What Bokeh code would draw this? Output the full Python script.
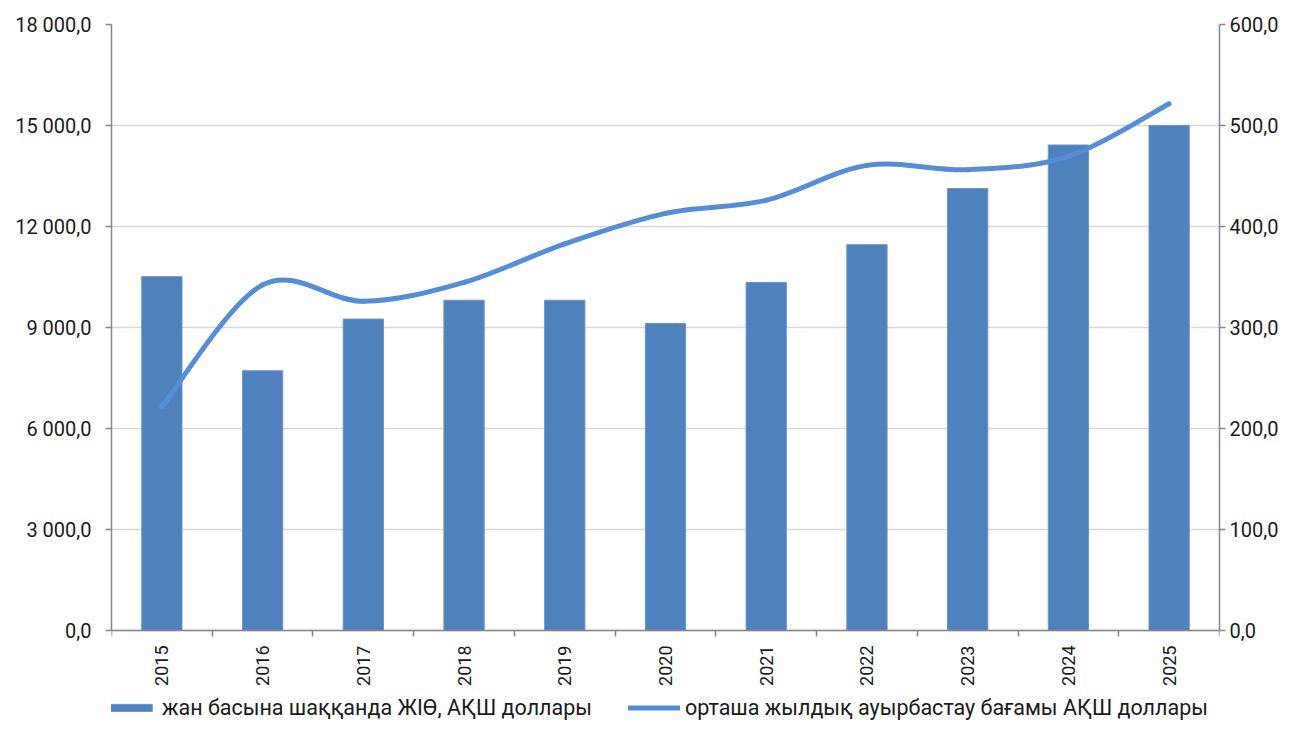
import math
from bokeh.plotting import figure
from bokeh.models import (Range1d, LinearAxis, FixedTicker, Legend, LegendItem)
from bokeh.embed import file_html
from bokeh.resources import INLINE

# ---- data ----
years = ["2015", "2016", "2017", "2018", "2019", "2020", "2021", "2022", "2023", "2024", "2025"]
gdp_per_capita = [10510, 7715, 9250, 9810, 9810, 9120, 10340, 11460, 13130, 14420, 15000]
exchange_rate = [221.7, 342.2, 326.0, 344.7, 382.8, 413.0, 426.0, 460.5, 456.3, 469.4, 521.5]

left_ticks = [0, 3000, 6000, 9000, 12000, 15000, 18000]
left_labels = ["0,0", "3 000,0", "6 000,0", "9 000,0", "12 000,0", "15 000,0", "18 000,0"]
right_ticks = [0, 100, 200, 300, 400, 500, 600]
right_labels = ["0,0", "100,0", "200,0", "300,0", "400,0", "500,0", "600,0"]

bar_label = "жан басына шаққанда ЖІӨ, АҚШ доллары"
line_label = "орташа жылдық ауырбастау бағамы АҚШ доллары"

BAR_COLOR = "#4F81BD"
LINE_COLOR = "#558ED5"
AXIS_COLOR = "#868686"
GRID_COLOR = "#D9D9D9"
TEXT_COLOR = "#1a1a1a"
FONT = "Roboto"

# layout (pixels)
W, H = 1281, 720
LEFT, RIGHT, TOP = 111, 59, 24
PLOT_H = 606          # height of the value area (0 .. max)
BELOW = H - TOP - PLOT_H  # room under the zero line for labels and legend

n = len(years)
xs = list(range(n))

y_max, r_max = left_ticks[-1], right_ticks[-1]
y_min = -BELOW * y_max / PLOT_H
r_min = -BELOW * r_max / PLOT_H

p = figure(width=W, height=H, output_backend="svg", toolbar_location=None,
           x_range=Range1d(-0.5, n - 0.5), y_range=Range1d(y_min, y_max),
           x_axis_location=None,
           min_border_left=LEFT, min_border_right=RIGHT, min_border_top=TOP,
           min_border_bottom=0)
p.outline_line_color = None
p.background_fill_color = "white"
p.border_fill_color = "white"
p.extra_y_ranges = {"right": Range1d(r_min, r_max)}

# bars
bars = p.vbar(x=xs, top=gdp_per_capita, bottom=0, width=0.4, fill_color=BAR_COLOR,
              line_color="#6a95c9", line_width=1)

# smooth line (Bezier segments through data points, Catmull-Rom style)
x0s, y0s, x1s, y1s, cx0s, cy0s, cx1s, cy1s = [], [], [], [], [], [], [], []
for i in range(n - 1):
    pm = (xs[max(i - 1, 0)], exchange_rate[max(i - 1, 0)])
    p0 = (xs[i], exchange_rate[i])
    p1 = (xs[i + 1], exchange_rate[i + 1])
    p2 = (xs[min(i + 2, n - 1)], exchange_rate[min(i + 2, n - 1)])
    x0s.append(p0[0]); y0s.append(p0[1])
    x1s.append(p1[0]); y1s.append(p1[1])
    cx0s.append(p0[0] + (p1[0] - pm[0]) / 6.0)
    cy0s.append(p0[1] + (p1[1] - pm[1]) / 6.0)
    cx1s.append(p1[0] - (p2[0] - p0[0]) / 6.0)
    cy1s.append(p1[1] - (p2[1] - p0[1]) / 6.0)
curve = p.bezier(x0=x0s, y0=y0s, x1=x1s, y1=y1s, cx0=cx0s, cy0=cy0s, cx1=cx1s, cy1=cy1s,
                 line_color=LINE_COLOR, line_width=5, line_cap="round",
                 y_range_name="right")

# category axis fixed on the zero line
xaxis = LinearAxis(fixed_location=0,
                   ticker=FixedTicker(ticks=xs, minor_ticks=[i - 0.5 for i in range(n + 1)]))
xaxis.major_label_overrides = {i: y for i, y in enumerate(years)}
xaxis.major_label_orientation = math.pi / 2
xaxis.major_tick_line_color = None
xaxis.major_tick_out = 6
xaxis.major_tick_in = 0
xaxis.minor_tick_line_color = AXIS_COLOR
xaxis.minor_tick_line_width = 1.5
xaxis.minor_tick_out = 6
xaxis.minor_tick_in = 0
xaxis.axis_line_color = AXIS_COLOR
xaxis.axis_line_width = 1.5
xaxis.major_label_text_font = FONT
xaxis.major_label_text_font_size = "18px"
xaxis.major_label_text_color = TEXT_COLOR
xaxis.major_label_standoff = 9
p.add_layout(xaxis, "below")

yaxis = p.yaxis[0]
yaxis.ticker = FixedTicker(ticks=left_ticks)
yaxis.bounds = (0, y_max)
yaxis.major_label_overrides = {t: l for t, l in zip(left_ticks, left_labels)}
yaxis.major_tick_out = 6
yaxis.major_tick_in = 0
yaxis.minor_tick_line_color = None
yaxis.major_tick_line_color = AXIS_COLOR
yaxis.major_tick_line_width = 1.5
yaxis.axis_line_color = AXIS_COLOR
yaxis.axis_line_width = 1.5
yaxis.major_label_text_font = FONT
yaxis.major_label_text_font_size = "20px"
yaxis.major_label_text_color = TEXT_COLOR
yaxis.major_label_standoff = 14

raxis = LinearAxis(y_range_name="right", ticker=FixedTicker(ticks=right_ticks))
raxis.bounds = (0, r_max)
raxis.major_label_overrides = {t: l for t, l in zip(right_ticks, right_labels)}
raxis.major_tick_out = 6
raxis.major_tick_in = 0
raxis.minor_tick_line_color = None
raxis.major_tick_line_color = AXIS_COLOR
raxis.major_tick_line_width = 1.5
raxis.axis_line_color = AXIS_COLOR
raxis.axis_line_width = 1.5
raxis.major_label_text_font = FONT
raxis.major_label_text_font_size = "20px"
raxis.major_label_text_color = TEXT_COLOR
raxis.major_label_standoff = 4
p.add_layout(raxis, "right")

for g in p.grid:
    if g.dimension == 0:
        g.visible = False
    else:
        g.grid_line_color = GRID_COLOR
        g.grid_line_width = 1.5
        g.ticker = FixedTicker(ticks=left_ticks)

legend = Legend(items=[LegendItem(label=bar_label, renderers=[bars], index=0),
                       LegendItem(label=line_label, renderers=[curve], index=0)],
                orientation="horizontal", location=(-6, 0),
                glyph_width=52, glyph_height=9, label_standoff=5, spacing=36,
                label_height=20, padding=0, margin=0, border_line_color=None,
                background_fill_alpha=0,
                label_text_font=FONT, label_text_font_size="21.5px",
                label_text_color=TEXT_COLOR)
p.add_layout(legend, "center")

open("out.html", "w").write(file_html(p, INLINE))
